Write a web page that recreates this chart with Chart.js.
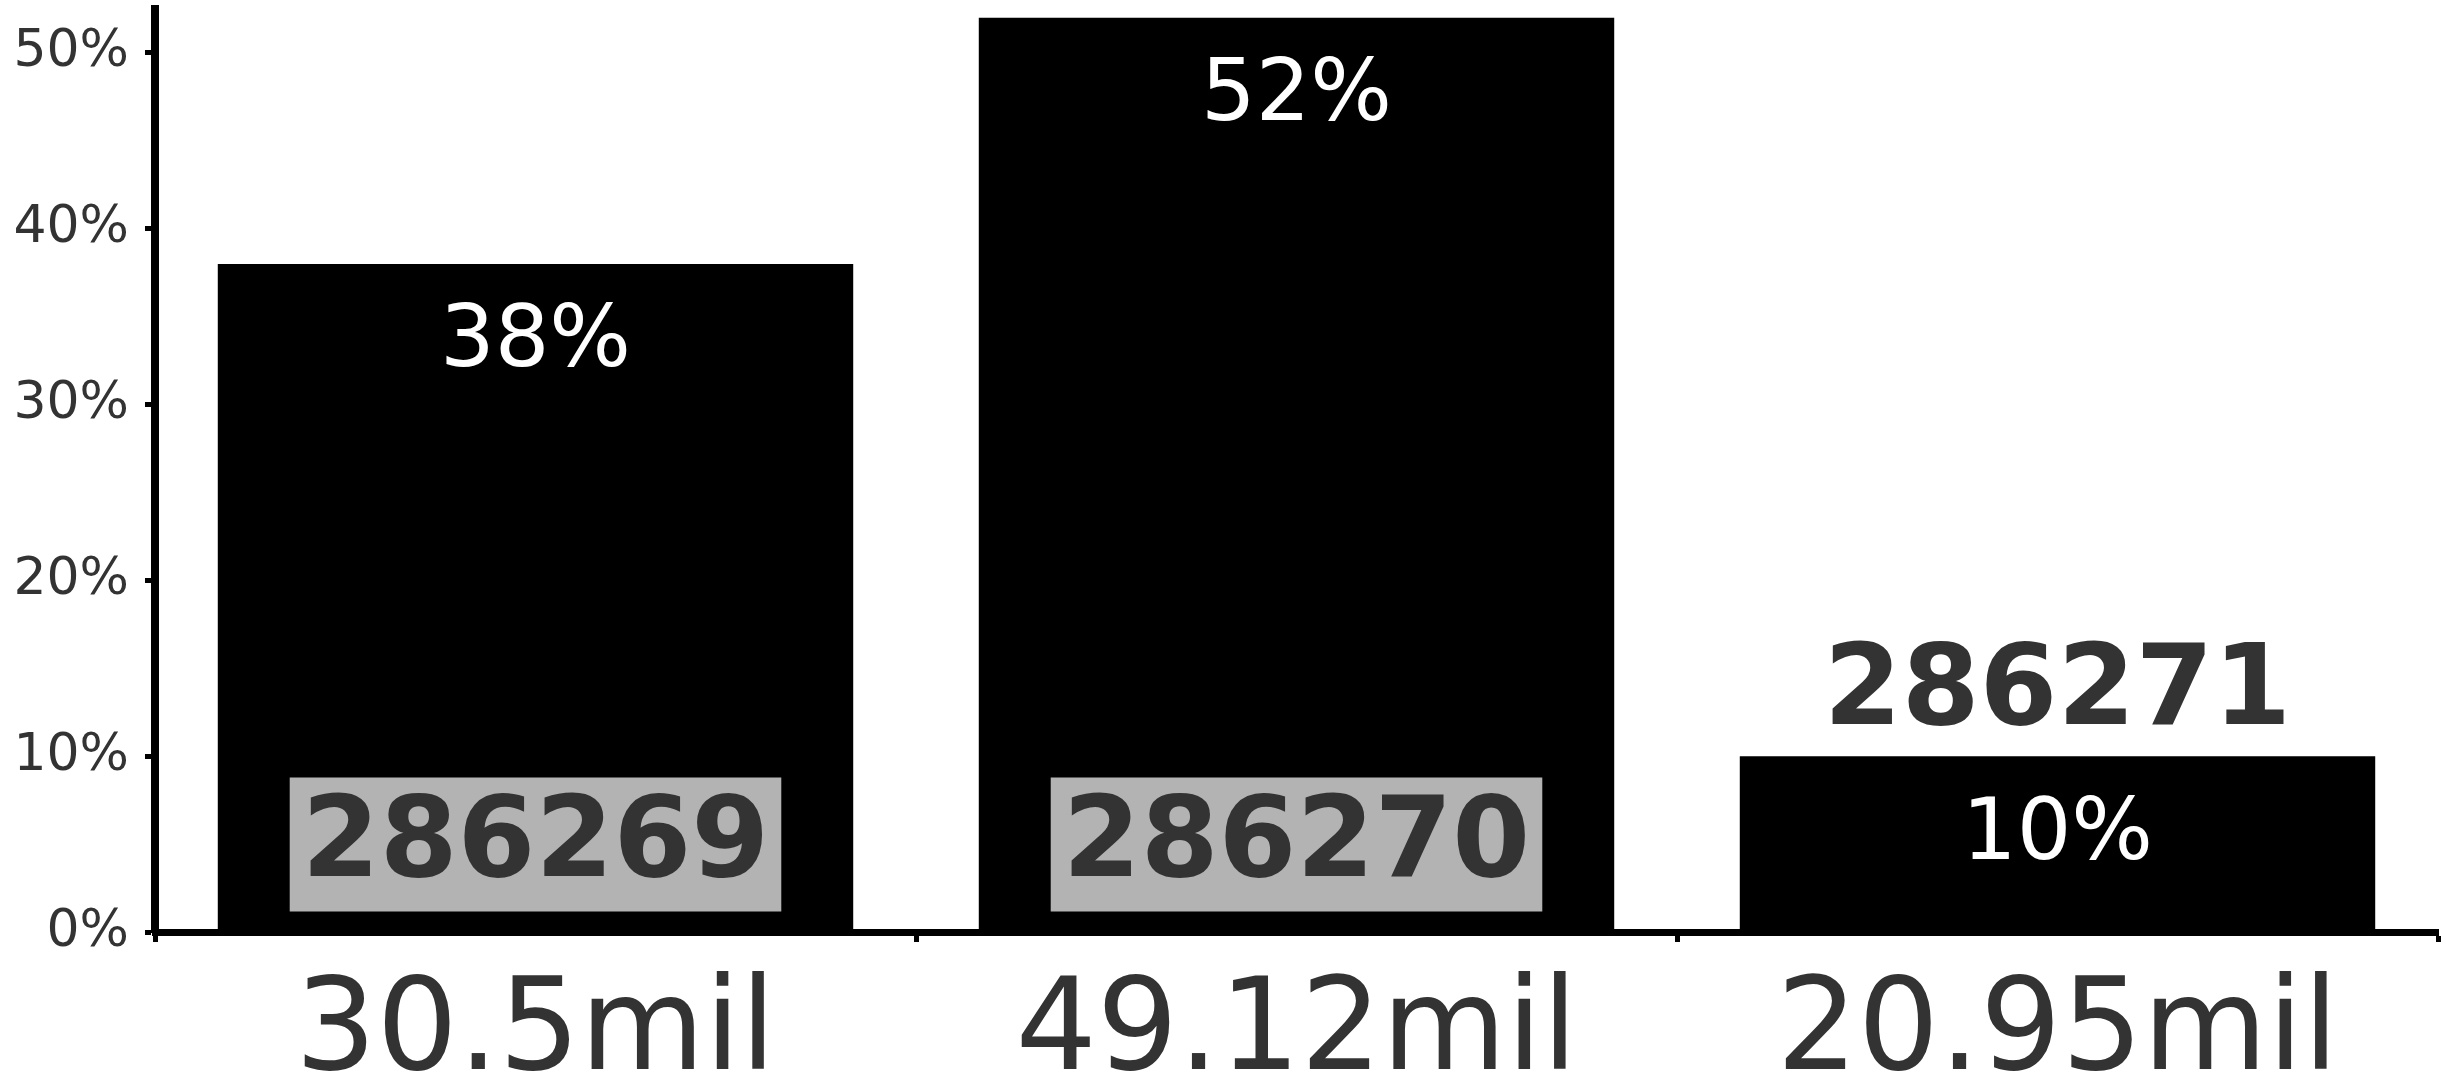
<!DOCTYPE html>
<html>
<head>
<meta charset="utf-8">
<style>
  html, body { margin: 0; padding: 0; background: #ffffff; }
  #wrap { width: 2446px; height: 1081px; position: relative; }
</style>
<script src="https://cdn.jsdelivr.net/npm/chart.js@4/dist/chart.umd.min.js"></script>
</head>
<body>
<div id="wrap"><canvas id="chart"></canvas></div>
<script>
// Bucket labels, share of each bucket (%), and record counts per bucket
const categories = ['30.5mil', '49.12mil', '20.95mil'];
const shares = [38, 52, 10];
const counts = [286269, 286270, 286271];
const yTicks = [0, 10, 20, 30, 40, 50];

const FONT = '"DejaVu Sans", "Liberation Sans", sans-serif';
const INK = '#333333';

// Draws the percentage inside each bar and the record count either in a
// grey box at the foot of the bar or, for short bars, above the bar.
const barLabels = {
  id: 'barLabels',
  afterDatasetsDraw(chart) {
    const ctx = chart.ctx;
    const meta = chart.getDatasetMeta(0);
    const boxH = 134, padX = 12, gap = 20;
    meta.data.forEach((bar, i) => {
      const { x, y, base } = bar.getProps(['x', 'y', 'base'], true);
      ctx.save();
      ctx.textAlign = 'center';
      ctx.textBaseline = 'middle';

      // percentage near the top of the bar
      ctx.fillStyle = '#ffffff';
      ctx.font = '86px ' + FONT;
      ctx.fillText(shares[i] + '%', x, y + 80);

      // count label
      ctx.font = 'bold 112px ' + FONT;
      const txt = String(counts[i]);
      const w = ctx.measureText(txt).width + padX * 2;
      const barH = base - y;
      if (barH > boxH + gap + 160) {
        const top = base - gap - boxH;
        ctx.fillStyle = '#b3b3b3';
        ctx.fillRect(x - w / 2, top, w, boxH);
        ctx.fillStyle = INK;
        ctx.fillText(txt, x, top + boxH / 2 + 2);
      } else {
        ctx.fillStyle = INK;
        ctx.fillText(txt, x, y - boxH / 2 + 6);
      }
      ctx.restore();
    });
  }
};

new Chart(document.getElementById('chart'), {
  type: 'bar',
  data: {
    labels: categories,
    datasets: [{
      data: shares,
      backgroundColor: '#000000',
      borderWidth: 0,
      barPercentage: 0.835,
      categoryPercentage: 1.0
    }]
  },
  options: {
    responsive: true,
    maintainAspectRatio: false,
    animation: false,
    devicePixelRatio: 1,
    layout: { padding: { top: 9, right: 8, left: 0, bottom: 0 } },
    plugins: {
      legend: { display: false },
      tooltip: { enabled: false }
    },
    scales: {
      x: {
        afterFit(scale) {
          scale.height = 149;
          scale.paddingLeft = 0;
          scale.paddingRight = 0;
        },
        grid: {
          display: true,
          drawOnChartArea: false,
          drawTicks: true,
          tickLength: 10,
          tickWidth: 5,
          tickColor: '#000000',
          color: '#000000',
          offset: true
        },
        border: { display: true, color: '#000000', width: 7 },
        ticks: {
          color: INK,
          padding: 30,
          maxRotation: 0,
          font: { family: FONT, size: 128, lineHeight: 1.0 }
        }
      },
      y: {
        min: 0,
        max: 52.5,
        afterFit(scale) {
          scale.width = 155;
          scale.paddingTop = 0;
          scale.paddingBottom = 0;
        },
        afterBuildTicks(scale) {
          scale.ticks = yTicks.map(v => ({ value: v }));
        },
        grid: {
          display: true,
          drawOnChartArea: false,
          drawTicks: true,
          tickLength: 10,
          tickWidth: 5,
          tickColor: '#000000',
          color: '#000000'
        },
        border: { display: true, color: '#000000', width: 8 },
        ticks: {
          color: INK,
          padding: 16,
          font: { family: FONT, size: 52 },
          callback: v => v + '%'
        }
      }
    }
  },
  plugins: [barLabels]
});
</script>
</body>
</html>
